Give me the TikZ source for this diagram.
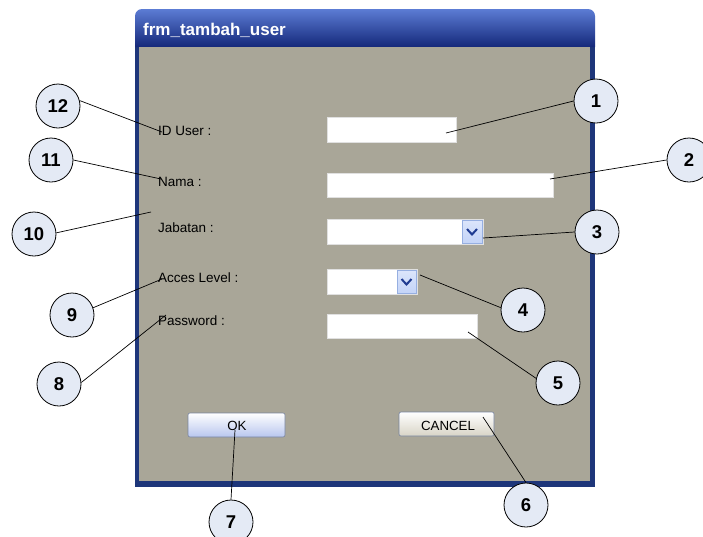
\documentclass[tikz,border=0pt]{standalone}
\usepackage{fontspec}
\setmainfont{Liberation Sans}
\definecolor{formgray}{RGB}{169,166,152}
\definecolor{frameblue}{RGB}{30,54,122}
\definecolor{titletop}{RGB}{92,124,212}
\definecolor{titlemid}{RGB}{24,48,140}
\definecolor{titlebot}{RGB}{20,40,122}
\definecolor{calloutfill}{RGB}{228,234,245}
\definecolor{combofill}{RGB}{196,212,248}
\definecolor{comboedge}{RGB}{150,175,225}
\definecolor{chevron}{RGB}{32,60,146}
\definecolor{okbottom}{RGB}{184,198,238}
\definecolor{cancelbottom}{RGB}{216,212,198}
\definecolor{btnedge}{RGB}{120,132,160}
\begin{document}
\begin{tikzpicture}[x=1pt,y=-1pt,
  callout/.style={circle,draw=black,line width=0.8pt,fill=calloutfill,
    minimum size=44pt,inner sep=0pt,font=\fontsize{18.5}{18.5}\selectfont\bfseries},
  lbl/.style={anchor=base west,inner sep=0pt,font=\fontsize{13.5}{13.5}\selectfont},
  btntext/.style={anchor=base,inner sep=0pt,font=\fontsize{13.3}{13.3}\selectfont},
  field/.style={fill=white,draw=white!88!black,line width=0.4pt},
  combobtn/.style={top color=white!40!combofill,bottom color=combofill,draw=comboedge,line width=0.6pt},
  chev/.style={draw=chevron,line width=2pt},
  lead/.style={line width=0.7pt},
]
\useasboundingbox (0,0) rectangle (703,536);

% window frame, title bar and client area
\fill[frameblue] (135,40) rectangle (595,487);
\shade[top color=titletop,middle color=titlemid,bottom color=titlebot]
  (135,47) [rounded corners=7pt]-- (135,9) -- (595,9) [sharp corners]-- (595,47) -- cycle;
\fill[formgray] (139,47) rectangle (590,481);
\node[anchor=base west,inner sep=0pt,text=white,
  font=\fontsize{17}{17}\selectfont\bfseries] (title) at (143,35) {frm\_tambah\_user};

% labels
\node[lbl] (lid)   at (158,135) {ID User :};
\node[lbl] (lnama) at (158,186) {Nama :};
\node[lbl] (ljab)  at (158,232) {Jabatan :};
\node[lbl] (llvl)  at (158,282) {Acces Level :};
\node[lbl] (lpass) at (158,325) {Password :};

% input fields
\draw[field] (327,117) rectangle (456,142);
\draw[field] (327,173) rectangle (553,197);
\draw[field] (327,219) rectangle (483,244);
\shadedraw[combobtn] (462,220) rectangle (482,243);
\draw[chev] (467,229) -- (472,234.5) -- (477,229);
\draw[field] (327,269) rectangle (417,294);
\shadedraw[combobtn] (397,270) rectangle (416,293);
\draw[chev] (401.5,279) -- (406.5,284.5) -- (411.5,279);
\draw[field] (327,314) rectangle (477,338);

% buttons
\shadedraw[top color=white,bottom color=okbottom,draw=btnedge,line width=0.6pt,
  rounded corners=2pt] (188,413) rectangle (285,437);
\node[btntext] (ok) at (237,430) {OK};
\shadedraw[top color=white,bottom color=cancelbottom,draw=btnedge,line width=0.6pt,
  rounded corners=2pt] (399,412) rectangle (494,436);
\node[btntext] (cancel) at (448,430) {CANCEL};

% callouts
\node[callout] (c1)  at (596,101) {1};
\node[callout] (c2)  at (689,160) {2};
\node[callout] (c3)  at (597,232) {3};
\node[callout] (c4)  at (523,310) {4};
\node[callout] (c5)  at (558,383) {5};
\node[callout] (c6)  at (526,505) {6};
\node[callout] (c7)  at (231,522) {7};
\node[callout] (c8)  at (59,384)  {8};
\node[callout] (c9)  at (72,315)  {9};
\node[callout] (c10) at (34,234)  {10};
\node[callout] (c11) at (51,160)  {11};
\node[callout] (c12) at (58,106)  {12};

% leader ends
\coordinate (p1)  at (446,133);
\coordinate (p2)  at (550,179);
\coordinate (p3)  at (483,238);
\coordinate (p4)  at (420,275);
\coordinate (p5)  at (468,332);
\coordinate (p6)  at (483,417);
\coordinate (p7)  at (235,430);
\coordinate (p8)  at (166,315);
\coordinate (p9)  at (162,279);
\coordinate (p10) at (151,212);
\coordinate (p11) at (161,179);
\coordinate (p12) at (162,132);

% leaders
\draw[lead] (c1.180)  -- (p1);
\draw[lead] (c2.180)  -- (p2);
\draw[lead] (c3.180)  -- (p3);
\draw[lead] (c4.174)  -- (p4);
\draw[lead] (c5.168)  -- (p5);
\draw[lead] (c6.90)   -- (p6);
\draw[lead] (c7.90)   -- (p7);
\draw[lead] (c8.4)    -- (p8);
\draw[lead] (c9.19)   -- (p9);
\draw[lead] (c10.3)   -- (p10);
\draw[lead] (c11.0)   -- (p11);
\draw[lead] (c12.14)  -- (p12);
\end{tikzpicture}
\end{document}
